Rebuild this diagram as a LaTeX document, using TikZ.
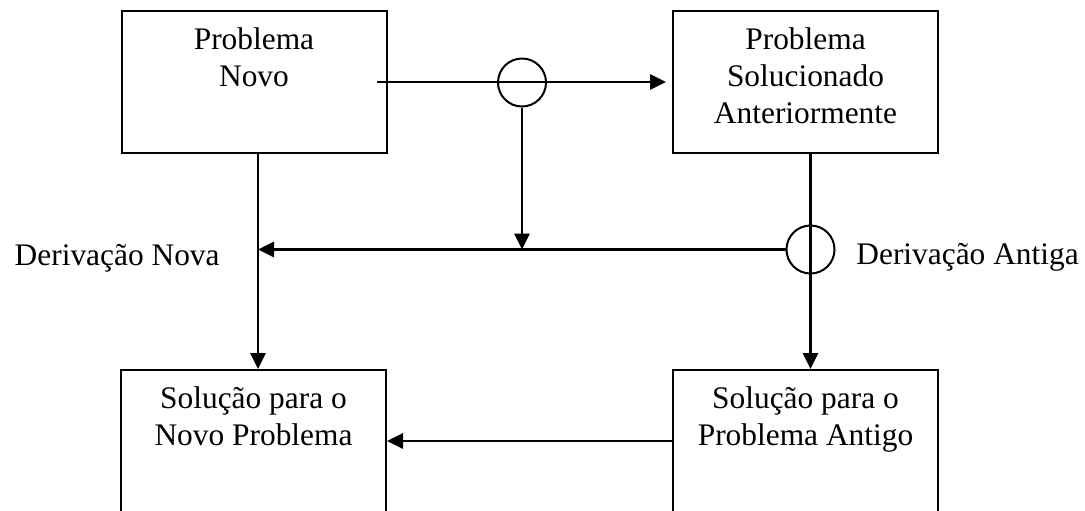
\documentclass[tikz,border=0pt]{standalone}
\usepackage{fontspec}
\setmainfont{Liberation Serif}
\usepackage{tikz}
\usetikzlibrary{positioning}
\usetikzlibrary{calc}
\usetikzlibrary{arrows.meta}
\tikzset{
  caixa/.style   = { rectangle, draw=black, line width=1pt, minimum width=132.5pt, minimum height=71pt, inner sep=0pt },
  juncao/.style  = { circle, draw=black, line width=1pt, minimum size=24pt, inner sep=0pt },
  texto/.style   = { font=\fontsize{15.7pt}{18.5pt}\selectfont, align=center, inner sep=0pt },
  seta/.style    = { line width=1.4pt, -{Triangle[length=8pt,width=7.5pt]} }
}

\begin{document}
\begin{tikzpicture}[
  x=0.5pt,y=-0.5pt,
  node distance=8.8pt
]
  \path [use as bounding box] (0,0) rectangle (1085,510);
  \clip (0,0) rectangle (1085,510);

  \node (novo)      [caixa] at (254,82)    {};
  \node (antigo)    [caixa] at (805.5,82)  {};
  \node (novasol)   [caixa] at (253.5,441) {};
  \node (antigosol) [caixa] at (805.5,441) {};

  \node (novo-txt)      [texto,below=of novo.north]      {Problema\\Novo};
  \node (antigo-txt)    [texto,below=of antigo.north]    {Problema\\Solucionado\\Anteriormente};
  \node (novasol-txt)   [texto,below=of novasol.north]   {Solução para o\\Novo Problema};
  \node (antigosol-txt) [texto,below=of antigosol.north] {Solução para o\\Problema Antigo};

  \node (c1) [juncao] at (522,82.5)    {};
  \node (c2) [juncao] at (810.5,249.5) {};

  \coordinate (saida) at (377,82);
  \coordinate (esq)   at (258,249.5);

  \node (dnova)   [texto,anchor=base east] at ($ (esq) + (-38,16) $)     {Derivação Nova};
  \node (dantiga) [texto,anchor=base west] at ($ (c2.east) + (20.5,14.5) $) {Derivação Antiga};

  \draw [seta,shorten >=3pt] (saida) -- (antigo.west);
  \draw [seta] (c1.south) -- (c1 |- esq);
  \draw [seta] (c2.west) -- (esq);
  \draw [seta] (novo.south -| esq) -- (novasol.north -| esq);
  \draw [seta] (antigo.south -| c2) -- (antigosol.north -| c2);
  \draw [seta] (antigosol.west) -- (novasol.east);

\end{tikzpicture}
\end{document}
